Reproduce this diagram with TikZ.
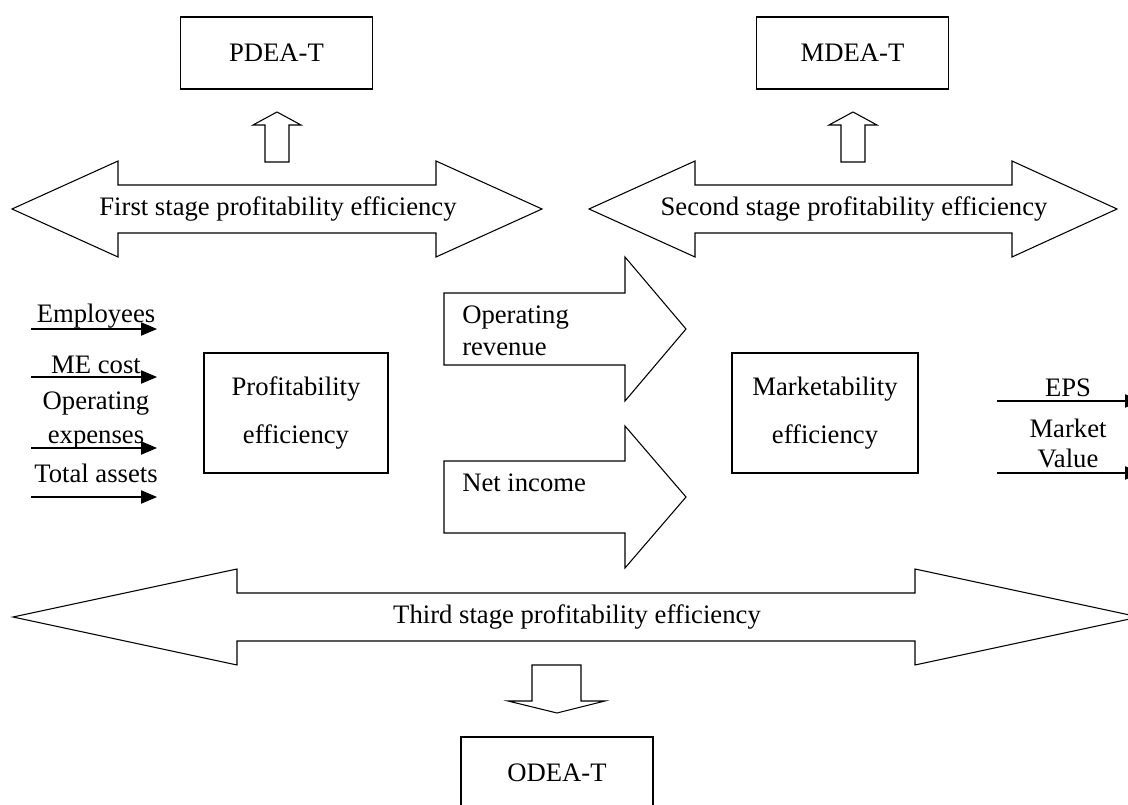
\documentclass[tikz,border=0pt]{standalone}
\usepackage{fontspec}
\setmainfont{Liberation Serif}
\usetikzlibrary{arrows.meta}

\tikzset{
  box/.style={draw, line width=1pt, minimum width=144pt, minimum height=54pt, inner sep=0pt, align=center},
  blk/.style={draw, line width=0.8pt, line join=miter},
  feed/.style={line width=0.8pt, -{Triangle[length=12pt,width=10pt]}},
  lbl/.style={inner sep=0.75pt, align=center},
}

\begin{document}
\begin{tikzpicture}[x=0.75pt,y=0.75pt,yscale=-1,xscale=1,font=\fontsize{20}{24}\selectfont]
\useasboundingbox (0,0) rectangle (1128,805);

%Shape: Rectangle [id:pdea]
\node [box] (pdea) at (276.5,53) {PDEA-T};
%Shape: Rectangle [id:mdea]
\node [box] (mdea) at (852.5,53) {MDEA-T};
%Shape: Rectangle [id:odea]
\node [box] (odea) at (557,773) {ODEA-T};

%Shape: Up Arrow [id:up1]
\draw [blk] (265,162) -- (265,125) -- (253,125) -- (277,112) -- (301,125) -- (289,125) -- (289,162) -- cycle ;
%Shape: Up Arrow [id:up2]
\draw [blk] (841,162) -- (841,125) -- (829,125) -- (853,112) -- (877,125) -- (865,125) -- (865,162) -- cycle ;
%Shape: Down Arrow [id:down3]
\draw [blk] (532,665) -- (532,701) -- (508,701) -- (557,713) -- (605,701) -- (581,701) -- (581,665) -- cycle ;

%Shape: Left Right Arrow [id:stage1]
\draw [blk] (12,209) -- (118,161) -- (118,185) -- (436,185) -- (436,161) -- (542,209) -- (436,257) -- (436,233) -- (118,233) -- (118,257) -- cycle ;
%Shape: Left Right Arrow [id:stage2]
\draw [blk] (589,209) -- (695,161) -- (695,185) -- (1012,185) -- (1012,161) -- (1117,209) -- (1012,257) -- (1012,233) -- (695,233) -- (695,257) -- cycle ;
%Shape: Left Right Arrow [id:stage3]
\draw [blk] (13,617) -- (237,569) -- (237,593) -- (915,593) -- (915,569) -- (1139,617) -- (915,665) -- (915,641) -- (237,641) -- (237,665) -- cycle ;

%Shape: Right Arrow [id:oprev]
\draw [blk] (444,293) -- (625,293) -- (625,257) -- (686,329) -- (625,401) -- (625,365) -- (444,365) -- cycle ;
%Shape: Right Arrow [id:netinc]
\draw [blk] (444,461) -- (625,461) -- (625,426) -- (686,497) -- (625,568) -- (625,533) -- (444,533) -- cycle ;

%Shape: Rectangle [id:profit]
\node [box, minimum width=138pt, minimum height=90pt] (profit) at (296,413) {Profitability\\[12pt]efficiency};
%Shape: Rectangle [id:market]
\node [box, minimum width=139.5pt, minimum height=90pt] (market) at (825,413) {Marketability\\[12pt]efficiency};

% Text Node
\node [lbl] (s1txt) at (278,209) {First stage profitability efficiency};
% Text Node
\node [lbl] (s2txt) at (854,209) {Second stage profitability efficiency};
% Text Node
\node [lbl] (s3txt) at (577,617) {Third stage profitability efficiency};
% Text Node
\node [lbl, anchor=west, align=left] (revtxt) at (461,331) {Operating\\revenue};
% Text Node
\node [lbl, anchor=west] (nettxt) at (461,483) {Net income};

%Straight Lines [id:inputs]
\coordinate (emp-s) at (31,329);  \coordinate (emp-e) at (157,329);
\coordinate (me-s) at (31,377);   \coordinate (me-e) at (157,377);
\coordinate (opx-s) at (31,448);  \coordinate (opx-e) at (157,448);
\coordinate (tot-s) at (31,497);  \coordinate (tot-e) at (157,497);
\draw [feed] (emp-s) -- (emp-e) ;
\draw [feed] (me-s) -- (me-e) ;
\draw [feed] (opx-s) -- (opx-e) ;
\draw [feed] (tot-s) -- (tot-e) ;
% Text Node
\node [lbl] (emp) at (96,316) {Employees};
% Text Node
\node [lbl] (me) at (96,365) {ME cost};
% Text Node
\node [lbl] (opx) at (96,421) {Operating\\[1.5pt]expenses};
% Text Node
\node [lbl] (tot) at (96,473) {Total assets};

%Straight Lines [id:outputs]
\coordinate (eps-s) at (997,401);  \coordinate (eps-e) at (1141,401);
\coordinate (mv-s) at (997,473);   \coordinate (mv-e) at (1141,473);
\draw [feed] (eps-s) -- (eps-e) ;
\draw [feed] (mv-s) -- (mv-e) ;
% Text Node
\node [lbl] (eps) at (1068,388) {EPS};
% Text Node
\node [lbl] (mv) at (1068,443) {Market\\[-1.5pt]Value};

\end{tikzpicture}
\end{document}
